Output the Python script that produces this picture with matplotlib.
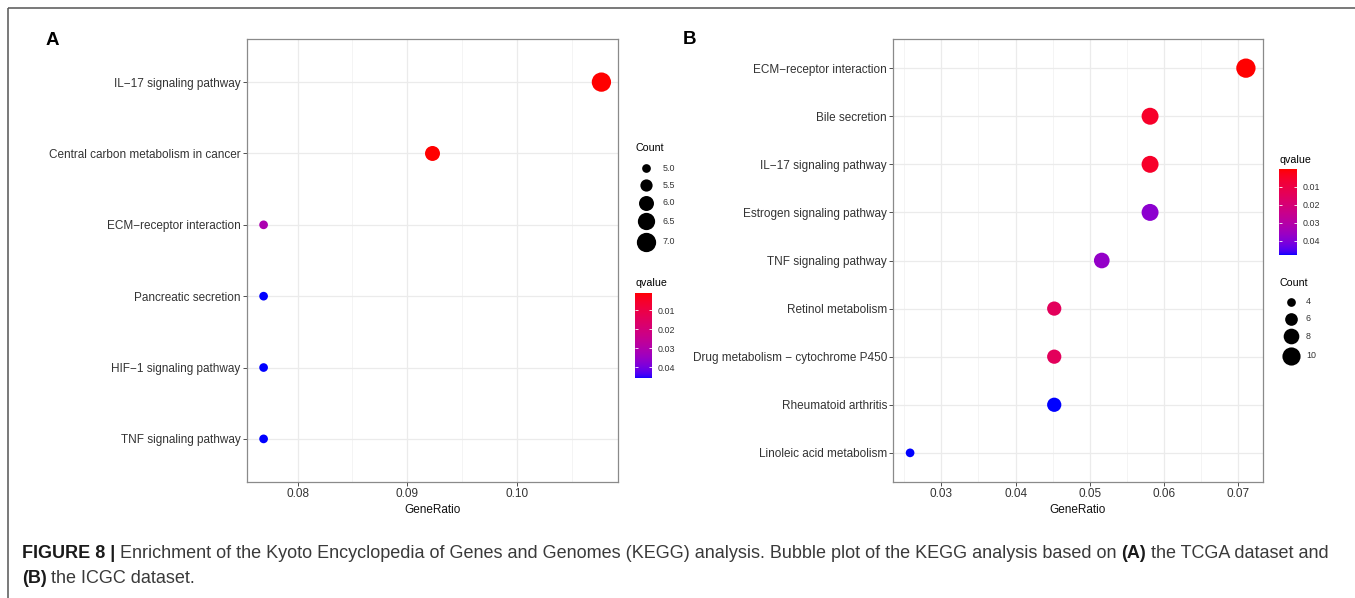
import numpy as np
import matplotlib
matplotlib.use("Agg")
import matplotlib.pyplot as plt
from matplotlib.colors import ListedColormap, Normalize
from matplotlib.cm import ScalarMappable
from matplotlib.ticker import MultipleLocator, FixedLocator

plt.rcParams['font.family'] = ['Liberation Sans', 'DejaVu Sans']

# ---------------- data ----------------
# Panel A (TCGA)
a_terms = ["IL\u221217 signaling pathway", "Central carbon metabolism in cancer",
           "ECM\u2212receptor interaction", "Pancreatic secretion",
           "HIF\u22121 signaling pathway", "TNF signaling pathway"]
a_ratio = [0.1077, 0.0923, 0.0769, 0.0769, 0.0769, 0.0769]
a_count = [7, 6, 5, 5, 5, 5]
a_qvalue = [0.0009, 0.0010, 0.0310, 0.0458, 0.0458, 0.0458]
a_size_breaks = [5.0, 5.5, 6.0, 6.5, 7.0]
a_size_labels = ["5.0", "5.5", "6.0", "6.5", "7.0"]

# Panel B (ICGC)
b_terms = ["ECM\u2212receptor interaction", "Bile secretion", "IL\u221217 signaling pathway",
           "Estrogen signaling pathway", "TNF signaling pathway", "Retinol metabolism",
           "Drug metabolism \u2212 cytochrome P450", "Rheumatoid arthritis",
           "Linoleic acid metabolism"]
b_ratio = [0.0710, 0.0581, 0.0581, 0.0581, 0.0516, 0.0452, 0.0452, 0.0452, 0.0258]
b_count = [11, 9, 9, 9, 8, 7, 7, 7, 4]
b_qvalue = [0.0002, 0.0050, 0.0050, 0.0385, 0.0370, 0.0145, 0.0145, 0.0480, 0.0480]
b_size_breaks = [4, 6, 8, 10]
b_size_labels = ["4", "6", "8", "10"]

q_ticks = [0.01, 0.02, 0.03, 0.04]
q_tick_labels = ["0.01", "0.02", "0.03", "0.04"]

caption_l1 = [("FIGURE 8 |", True),
              (" Enrichment of the Kyoto Encyclopedia of Genes and Genomes (KEGG) analysis. "
               "Bubble plot of the KEGG analysis based on ", False),
              ("(A)", True), (" the TCGA dataset and", False)]
caption_l2 = [("(B)", True), (" the ICGC dataset.", False)]

# ---------------- helpers ----------------
W, H, DPI = 1355, 598, 100
TXT = '#333333'


def srgb_to_lab(rgb):
    rgb = np.asarray(rgb, float)
    lin = np.where(rgb <= 0.04045, rgb / 12.92, ((rgb + 0.055) / 1.055) ** 2.4)
    M = np.array([[0.4124564, 0.3575761, 0.1804375],
                  [0.2126729, 0.7151522, 0.0721750],
                  [0.0193339, 0.1191920, 0.9503041]])
    xyz = M @ lin
    xyz = xyz / np.array([0.95047, 1.0, 1.08883])
    f = np.where(xyz > 216 / 24389, np.cbrt(xyz), (24389 / 27 * xyz + 16) / 116)
    return np.array([116 * f[1] - 16, 500 * (f[0] - f[1]), 200 * (f[1] - f[2])])


def lab_to_srgb(lab):
    L, a, b = lab
    fy = (L + 16) / 116
    fx = fy + a / 500
    fz = fy - b / 200
    e = 216 / 24389
    k = 24389 / 27
    xr = fx ** 3 if fx ** 3 > e else (116 * fx - 16) / k
    yr = fy ** 3 if L > k * e else L / k
    zr = fz ** 3 if fz ** 3 > e else (116 * fz - 16) / k
    xyz = np.array([xr * 0.95047, yr, zr * 1.08883])
    Minv = np.array([[3.2404542, -1.5371385, -0.4985314],
                     [-0.9692660, 1.8760108, 0.0415560],
                     [0.0556434, -0.2040259, 1.0572252]])
    lin = np.clip(Minv @ xyz, 0, 1)
    rgb = np.where(lin <= 0.0031308, 12.92 * lin, 1.055 * lin ** (1 / 2.4) - 0.055)
    return np.clip(rgb, 0, 1)


lab_lo = srgb_to_lab([1, 0, 0])
lab_hi = srgb_to_lab([0, 0, 1])
cmap = ListedColormap([lab_to_srgb(lab_lo + t * (lab_hi - lab_lo)) for t in np.linspace(0, 1, 256)])

D_MIN, D_MAX = 8.7, 19.3  # px diameters


def diam(c, cmin, cmax):
    t = (np.asarray(c, float) - cmin) / (cmax - cmin)
    return np.sqrt(D_MIN ** 2 + t * (D_MAX ** 2 - D_MIN ** 2))


def s_of(d):
    return (np.asarray(d) * 72.0 / DPI) ** 2


def rect(x0, y0, x1, y1):
    return [x0 / W, 1 - y1 / H, (x1 - x0) / W, (y1 - y0) / H]


fig = plt.figure(figsize=(W / DPI, H / DPI), dpi=DPI)
fig.patch.set_facecolor('white')


def panel(box, terms, ratio, count, q):
    ax = fig.add_axes(rect(*box))
    n = len(terms)
    y = np.arange(n)[::-1]
    cmin, cmax = min(count), max(count)
    norm = Normalize(min(q), max(q))
    ax.scatter(ratio, y, s=s_of(diam(count, cmin, cmax)), c=q, cmap=cmap, norm=norm,
               linewidths=0, zorder=3)
    lo, hi = min(ratio), max(ratio)
    pad = 0.05 * (hi - lo)
    ax.set_xlim(lo - pad, hi + pad)
    ax.set_ylim(-0.6, n - 1 + 0.6)
    ax.set_yticks(y)
    ax.set_yticklabels(terms)
    ax.xaxis.set_major_locator(MultipleLocator(0.01))
    ax.xaxis.set_minor_locator(MultipleLocator(0.005))
    ax.xaxis.set_major_formatter(matplotlib.ticker.FormatStrFormatter('%.2f'))
    ax.grid(which='major', color='#EBEBEB', lw=0.9, zorder=0)
    ax.grid(which='minor', axis='x', color='#F3F3F3', lw=0.6, zorder=0)
    ax.set_axisbelow(True)
    ax.tick_params(axis='both', which='major', length=2.6, width=0.6, color=TXT,
                   labelsize=8.5, labelcolor=TXT, pad=2)
    ax.tick_params(axis='x', which='minor', length=0)
    for sp in ax.spines.values():
        sp.set_color('#8a8a8a')
        sp.set_linewidth(0.9)
    ax.set_xlabel('GeneRatio', fontsize=8.5, color='#111111', labelpad=3)
    return ax, norm, cmin, cmax


axA, normA, aminc, amaxc = panel((246.7, 39.3, 618.3, 481.7), a_terms, a_ratio, a_count, a_qvalue)
axB, normB, bminc, bmaxc = panel((893.3, 39.3, 1262.7, 481.7), b_terms, b_ratio, b_count, b_qvalue)

# overlay axes in pixel coords
ov = fig.add_axes([0, 0, 1, 1])
ov.set_xlim(0, W)
ov.set_ylim(H, 0)
ov.axis('off')
ov.patch.set_visible(False)

# frame lines
ov.plot([7.5, W], [8.3, 8.3], color='#555555', lw=1.1, solid_capstyle='butt')
ov.plot([7.5, 7.5], [8.3, H], color='#555555', lw=1.1, solid_capstyle='butt')

# panel letters
ov.text(45.5, 45.0, 'A', fontsize=13.5, fontweight='bold', color='black', va='baseline')
ov.text(682.3, 44.0, 'B', fontsize=13.5, fontweight='bold', color='black', va='baseline')


def size_legend(x_title, y_title, x_key, x_lab, y_first, breaks, labels, cmin, cmax):
    ov.text(x_title, y_title, 'Count', fontsize=7.7, color='black', va='center', ha='left')
    ds = diam(breaks, cmin, cmax)
    hs = np.maximum(17.0, ds + 2.5)
    yc = y_first
    for i, (d, lab) in enumerate(zip(ds, labels)):
        if i > 0:
            yc += (hs[i - 1] + hs[i]) / 2
        ov.scatter([x_key], [yc], s=s_of(d), color='black', linewidths=0)
        ov.text(x_lab, yc, lab, fontsize=6.4, color=TXT, va='center', ha='left')


def q_legend(x_title, y_title, box, norm):
    ov.text(x_title, y_title, 'qvalue', fontsize=7.7, color='black', va='center', ha='left')
    cax = fig.add_axes(rect(*box))
    sm = ScalarMappable(norm=norm, cmap=cmap)
    cb = fig.colorbar(sm, cax=cax)
    cb.outline.set_visible(False)
    cax.invert_yaxis()
    cax.yaxis.set_major_locator(FixedLocator(q_ticks))
    cax.set_yticklabels(q_tick_labels)
    cax.tick_params(axis='y', which='major', direction='in', length=2.5, width=0.6,
                    color='white', left=True, right=True, labelleft=False, labelright=True,
                    labelsize=6.4, labelcolor=TXT, pad=4)
    cax.tick_params(axis='y', which='minor', length=0)


# Panel A legends
size_legend(635.0, 148.0, 645.7, 662.7, 168.3, a_size_breaks, a_size_labels, aminc, amaxc)
q_legend(635.0, 283.3, (635.0, 292.7, 651.7, 378.3), normA)

# Panel B legends
q_legend(1279.3, 160.0, (1279.3, 169.3, 1296.7, 255.0), normB)
size_legend(1279.3, 283.3, 1290.7, 1306.0, 301.7, b_size_breaks, b_size_labels, bminc, bmaxc)

# caption
renderer = fig.canvas.get_renderer()


def draw_line(parts, x0, y, fs):
    objs = []
    x = x0
    for txt, bold in parts:
        t = ov.text(x, y, txt, fontsize=fs, fontweight='bold' if bold else 'normal',
                    color='#1a1a1a' if bold else '#3a3a3a', va='baseline', ha='left')
        objs.append(t)
        bb = t.get_window_extent(renderer)
        x = bb.x1
    return objs, x


fs0 = 11.7
objs, xend = draw_line(caption_l1, 21.7, 558.3, fs0)
for o in objs:
    o.remove()
fs = fs0 * (1327.0 - 21.7) / (xend - 21.7)
draw_line(caption_l1, 21.7, 558.3, fs)
draw_line(caption_l2, 21.7, 582.7, fs)

fig.savefig('out.png', dpi=DPI, facecolor='white')
